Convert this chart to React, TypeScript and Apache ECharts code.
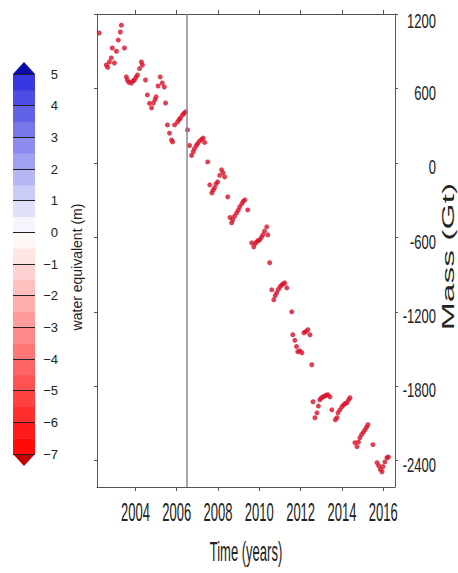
import React, { useEffect, useRef } from "react";
import * as echarts from "echarts";

// ---- data ----
const years = [
  2002.25, 2002.59, 2002.66, 2002.74, 2002.83, 2002.88, 2002.98, 2003.08, 2003.17, 2003.27, 2003.32,
  2003.47, 2003.56, 2003.61, 2003.68, 2003.8, 2003.88, 2003.95, 2004.03, 2004.1, 2004.2, 2004.29,
  2004.34, 2004.49, 2004.58, 2004.68, 2004.78, 2004.87, 2004.95, 2005.0, 2005.1, 2005.2, 2005.3,
  2005.4, 2005.46, 2005.55, 2005.65, 2005.75, 2005.8, 2005.9, 2006.04, 2006.12, 2006.18, 2006.28,
  2006.36, 2006.43, 2006.52, 2006.62, 2006.72, 2006.8, 2006.86, 2006.95, 2007.01, 2007.1, 2007.2,
  2007.28, 2007.35, 2007.5, 2007.6, 2007.7, 2007.76, 2007.83, 2007.9, 2007.98, 2008.08, 2008.17,
  2008.25, 2008.32, 2008.47, 2008.58, 2008.66, 2008.71, 2008.8, 2008.9, 2008.98, 2009.05, 2009.15,
  2009.22, 2009.3, 2009.44, 2009.63, 2009.73, 2009.8, 2009.87, 2009.95, 2010.02, 2010.1, 2010.17,
  2010.25, 2010.36, 2010.41, 2010.5, 2010.6, 2010.7, 2010.77, 2010.84, 2010.92, 2011.0, 2011.08,
  2011.15, 2011.23, 2011.33, 2011.57, 2011.62, 2011.72, 2011.8, 2011.86, 2011.96, 2012.06, 2012.16,
  2012.25, 2012.35, 2012.45, 2012.54, 2012.6, 2012.69, 2012.79, 2012.86, 2012.93, 2013.0, 2013.08,
  2013.16, 2013.24, 2013.32, 2013.42, 2013.51, 2013.68, 2013.76, 2013.81, 2013.9, 2014.0, 2014.08,
  2014.16, 2014.24, 2014.32, 2014.39, 2014.63, 2014.73, 2014.8, 2014.87, 2014.95, 2015.04, 2015.12,
  2015.19, 2015.26, 2015.5, 2015.7, 2015.78, 2015.86, 2015.94, 2015.99, 2016.08, 2016.18, 2016.25,
];
const massGt = [
  1047, 789, 770, 813, 846, 926, 805, 900, 990, 1055, 1110,
  926, 693, 668, 650, 644, 660, 668, 690, 709, 760, 813,
  789, 668, 548, 480, 443, 483, 510, 532, 620, 693, 644,
  612, 483, 306, 240, 185, 169, 306, 330, 350, 362, 387,
  400, 411, 266, 140, 60, 90, 115, 140, 155, 175, 190,
  200, 165, 8, -177, -242, -220, -201, -170, -153, -100, -56,
  -80, -113, -274, -440, -483, -459, -430, -403, -380, -354, -330,
  -310, -298, -379, -644, -677, -650, -636, -625, -620, -600, -580,
  -550, -515, -580, -805, -1023, -1103, -1070, -1047, -1020, -999, -985,
  -975, -967, -1007, -1200, -1385, -1430, -1480, -1522, -1515, -1530, -1369,
  -1360, -1345, -1385, -1627, -1925, -2054, -2014, -1960, -1909, -1895, -1885,
  -1880, -1872, -1868, -1885, -1990, -2070, -2054, -2014, -1990, -1965, -1950,
  -1940, -1933, -1910, -1893, -2255, -2287, -2250, -2215, -2190, -2170, -2150,
  -2130, -2110, -2271, -2416, -2440, -2470, -2489, -2448, -2410, -2376, -2370,
];
const xTickYears = [2004, 2006, 2008, 2010, 2012, 2014, 2016];
const yTickMass = [-2400, -1800, -1200, -600, 0, 600, 1200];
const markerYear = 2006.5;
const cbBounds = [
  -7, -6.5, -6, -5.5, -5, -4.5, -4, -3.5, -3, -2.5, -2, -1.5, -1, -0.5,
  0, 0.5, 1, 1.5, 2, 2.5, 3, 3.5, 4, 4.5, 5,
];
const cbMin = -7;
const cbMax = 5;

function mix(a: number[], b: number[], t: number) {
  const c = a.map((v, i) => Math.round(v + (b[i] - v) * t));
  return `rgb(${c[0]},${c[1]},${c[2]})`;
}
function cellColor(v: number) {
  if (v >= 0) return mix([255, 255, 255], [45, 45, 225], v / cbMax);
  return mix([255, 255, 255], [255, 0, 0], v / cbMin);
}

const FONT = '"Liberation Sans", Arial, sans-serif';

export default function App() {
  const ref = useRef<HTMLDivElement>(null);
  useEffect(() => {
    document.body.style.margin = "0";
    const chart = echarts.init(ref.current!, null, { renderer: "svg" });

    const cbData: number[][] = [];
    for (let i = 0; i < cbBounds.length - 1; i++) cbData.push([cbBounds[i], cbBounds[i + 1], 0]);
    cbData.push([cbMax, cbMax + 0.38, 1]);
    cbData.push([cbMin, cbMin - 0.38, 2]);

    const axisColor = "#555";

    chart.setOption({
      animation: false,
      backgroundColor: "#ffffff",
      grid: [
        { left: 97, right: 63, top: 14, bottom: 86 },
        { left: 13, top: 74, width: 22, height: 380 },
      ],
      xAxis: [
        {
          gridIndex: 0,
          type: "value",
          position: "bottom",
          min: 2002.14,
          max: 2016.57,
          axisLine: { show: true, onZero: false, lineStyle: { color: axisColor } },
          axisTick: { show: true, length: 4, customValues: xTickYears, lineStyle: { color: axisColor } },
          axisLabel: { show: false },
          splitLine: { show: false },
        },
        {
          gridIndex: 0,
          type: "value",
          position: "top",
          min: 2002.14,
          max: 2016.57,
          axisLine: { show: true, onZero: false, lineStyle: { color: axisColor } },
          axisTick: { show: true, length: 4, customValues: xTickYears, lineStyle: { color: axisColor } },
          axisLabel: { show: false },
          splitLine: { show: false },
        },
        { gridIndex: 1, type: "value", min: 0, max: 1, show: false },
      ],
      yAxis: [
        {
          gridIndex: 0,
          type: "value",
          position: "right",
          min: -2612,
          max: 1200,
          axisLine: { show: true, onZero: false, lineStyle: { color: axisColor } },
          axisTick: { show: true, length: 3, customValues: yTickMass, lineStyle: { color: axisColor } },
          axisLabel: { show: false },
          splitLine: { show: false },
        },
        {
          gridIndex: 0,
          type: "value",
          position: "left",
          min: -2612,
          max: 1200,
          axisLine: { show: true, onZero: false, lineStyle: { color: axisColor } },
          axisTick: { show: true, length: 3, customValues: yTickMass, lineStyle: { color: axisColor } },
          axisLabel: { show: false },
          splitLine: { show: false },
        },
        {
          gridIndex: 1,
          type: "value",
          position: "right",
          min: cbMin,
          max: cbMax,
          interval: 1,
          z: 5,
          axisLine: { show: false },
          axisTick: { show: true, length: 4, lineStyle: { color: "#222" } },
          axisLabel: {
            formatter: (v: number) => String(v).replace("-", "\u2212"),
            align: "right",
            margin: 23,
            fontFamily: FONT,
            fontSize: 13,
            color: "#222",
          },
          splitLine: { show: true, lineStyle: { color: "#222", width: 1 } },
        },
      ],
      series: [
        {
          type: "scatter",
          xAxisIndex: 0,
          yAxisIndex: 0,
          symbolSize: 5,
          itemStyle: { color: "#d81028" },
          data: years.map((y, i) => [y, massGt[i]]),
          markLine: {
            silent: true,
            symbol: "none",
            label: { show: false },
            lineStyle: { color: "#8a8a8a", width: 1.5, type: "solid" },
            data: [{ xAxis: markerYear }],
          },
        },
        {
          type: "custom",
          xAxisIndex: 2,
          yAxisIndex: 2,
          data: cbData,
          renderItem: (_params: any, api: any) => {
            const lo = api.value(0) as number;
            const hi = api.value(1) as number;
            const kind = api.value(2) as number;
            if (kind === 0) {
              const a = api.coord([0, hi]);
              const b = api.coord([1, lo]);
              return {
                type: "rect",
                shape: { x: a[0], y: a[1], width: b[0] - a[0], height: b[1] - a[1] + 0.5 },
                style: { fill: cellColor((lo + hi) / 2) },
              };
            }
            const p0 = api.coord([0, lo]);
            const p1 = api.coord([1, lo]);
            const tip = api.coord([0.5, hi]);
            return {
              type: "polygon",
              shape: { points: [p0, p1, tip] },
              style: { fill: kind === 1 ? "#0a0aa8" : "#c20000" },
            };
          },
        },
      ],
    });

    // tall, stretched tick labels like the reference, placed through the axes' scales
    const txt = (text: string, x: number, y: number, extra: any, align = "center") => ({
      type: "text",
      x,
      y,
      ...extra,
      style: {
        text,
        font: `13px ${FONT}`,
        fill: "#222",
        align,
        verticalAlign: "middle",
        textAlign: align,
        textVerticalAlign: "middle",
      },
    });
    const graphics: any[] = [];
    xTickYears.forEach((v) => {
      const px = chart.convertToPixel({ xAxisIndex: 0 }, v) as number;
      graphics.push(txt(String(v), px, 512, { scaleY: 2.0 }));
    });
    yTickMass.forEach((v) => {
      const py = chart.convertToPixel({ yAxisIndex: 0 }, v) as number;
      graphics.push(txt(String(v), 436, Math.max(py + 4, 21), { scaleY: 1.6 }, "right"));
    });
    graphics.push(txt("Time (years)", 246, 552, { scaleY: 2.1 }));
    const massMid = chart.convertToPixel({ yAxisIndex: 0 }, (-2612 + 1200) / 2) as number;
    graphics.push({
      type: "text",
      x: 449,
      y: massMid + 6,
      rotation: Math.PI / 2,
      scaleX: 2.1,
      style: {
        text: "Mass (Gt)",
        font: `16px ${FONT}`,
        fill: "#222",
        align: "center",
        verticalAlign: "middle",
        textAlign: "center",
        textVerticalAlign: "middle",
      },
    });
    const cbMid = chart.convertToPixel({ yAxisIndex: 2 }, (cbMin + cbMax) / 2) as number;
    graphics.push({
      type: "text",
      x: 77,
      y: cbMid + 3,
      rotation: Math.PI / 2,
      style: {
        text: "water equivalent (m)",
        font: `14px ${FONT}`,
        fill: "#222",
        align: "center",
        verticalAlign: "middle",
        textAlign: "center",
        textVerticalAlign: "middle",
      },
    });
    chart.setOption({ graphic: graphics });

    return () => chart.dispose();
  }, []);
  return <div ref={ref} style={{ width: 458, height: 573 }} />;
}
